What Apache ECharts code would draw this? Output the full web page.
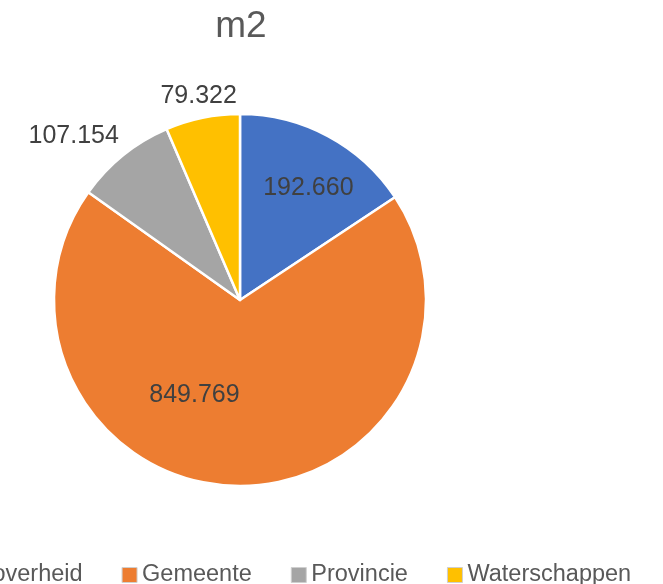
<!DOCTYPE html>
<html>
<head>
<meta charset="utf-8">
<script src="https://cdn.jsdelivr.net/npm/echarts@6/dist/echarts.min.js"></script>
<style>
  html, body { margin: 0; padding: 0; background: #fff; }
  #chart { width: 663px; height: 584px; }
</style>
</head>
<body>
<div id="chart"></div>
<script>
// data
const categories = ["Rijksoverheid", "Gemeente", "Provincie", "Waterschappen"];
const values = [192660, 849769, 107154, 79322];
const colors = ["#4472C4", "#ED7D31", "#A5A5A5", "#FFC000"];
// label nudges (excel "best fit" placement)
const labelOffsets = [[23, -27], [-44, -1], [-106, -89], [-22, -110]];

const fmt = (v) => v.toLocaleString("de-DE");

const chart = echarts.init(document.getElementById("chart"));
const font = "Liberation Sans";

chart.setOption({
  animation: false,
  color: colors,
  title: {
    text: "m2",
    left: 236,
    top: 3,
    textAlign: "center",
    textStyle: { fontFamily: font, fontSize: 37, fontWeight: "normal", color: "#595959" },
  },
  legend: {
    left: -84,
    top: 558,
    width: 1000,
    icon: "rect",
    itemWidth: 15,
    itemHeight: 15,
    itemGap: 39,
    itemStyle: { borderColor: "#cfcfcf", borderWidth: 1 },
    textStyle: { fontFamily: font, fontSize: 23.5, color: "#595959" },
    data: categories,
  },
  series: [
    {
      type: "pie",
      center: [240, 300],
      radius: 186,
      startAngle: 90,
      clockwise: true,
      itemStyle: { borderColor: "#ffffff", borderWidth: 2.5 },
      labelLine: { show: false },
      emphasis: { disabled: true },
      data: categories.map((name, i) => ({
        name: name,
        value: values[i],
        label: {
          show: true,
          position: "inside",
          offset: labelOffsets[i],
          formatter: (p) => fmt(p.value),
          fontFamily: font,
          fontSize: 25,
          color: "#404040",
        },
      })),
    },
  ],
});
</script>
</body>
</html>
